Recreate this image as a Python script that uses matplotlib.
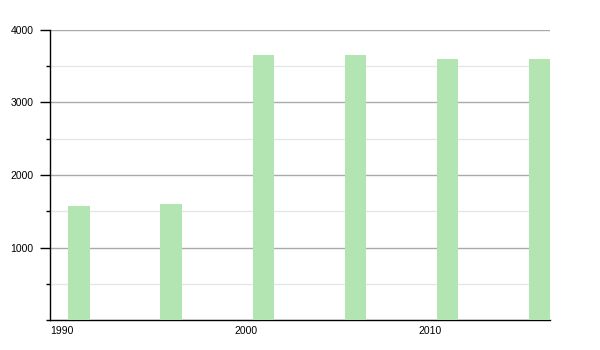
import matplotlib.pyplot as plt
from matplotlib.ticker import MultipleLocator

years = [1991, 1996, 2001, 2006, 2011, 2016]
values = [1575, 1602, 3652, 3652, 3595, 3595]
x_ticks = [1990, 2000, 2010]
y_ticks = [1000, 2000, 3000, 4000]

plt.rcParams['font.family'] = ['Liberation Sans', 'DejaVu Sans']

fig = plt.figure(figsize=(6, 3.5), dpi=100)
ax = fig.add_axes([50 / 600, 30 / 350, 500 / 600, 290 / 350])

ax.bar(years, values, width=1.15, align='edge', color='#b3e5b3', zorder=3)

ax.set_xlim(1990, 2017.15)
ax.set_ylim(0, 4000)

ax.set_yticks(y_ticks)
ax.yaxis.set_minor_locator(MultipleLocator(500))
ax.grid(axis='y', which='major', color='#aaaaaa', linewidth=1, zorder=1)
ax.grid(axis='y', which='minor', color='#e6e6e6', linewidth=1, zorder=1)

ax.set_xticks(x_ticks)
ax.set_xticklabels([str(t) for t in x_ticks], ha='left')
ax.tick_params(axis='x', length=0, pad=4, labelsize=7.5)
ax.tick_params(axis='y', which='major', length=7, width=1, pad=5, labelsize=7.5)
ax.tick_params(axis='y', which='minor', length=3, width=1)

for s in ['top', 'right']:
    ax.spines[s].set_visible(False)
for s in ['left', 'bottom']:
    ax.spines[s].set_color('black')
    ax.spines[s].set_linewidth(1)

fig.savefig('out.png', dpi=100)
